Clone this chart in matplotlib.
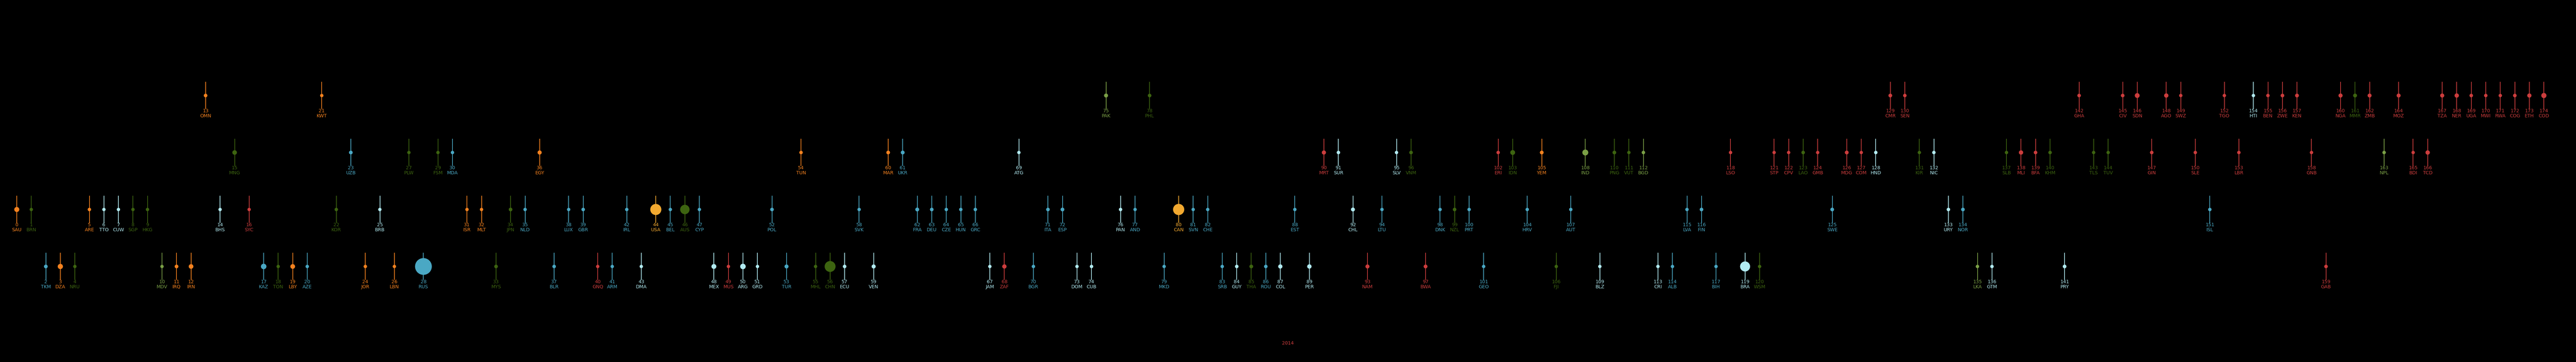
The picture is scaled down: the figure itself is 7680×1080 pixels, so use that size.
import matplotlib
matplotlib.use("Agg")
import matplotlib.pyplot as plt
import numpy as np

# ---- data ----
ranks = [0, 1, 2, 3, 4, 5, 6, 7, 8, 9, 10, 11, 12, 13, 14, 15, 16, 17, 18, 19, 20, 21, 22, 23,
         24, 25, 26, 27, 28, 29, 30, 31, 32, 33, 34, 35, 36, 37, 38, 39, 40, 41, 42, 43, 44, 45,
         46, 47, 48, 49, 50, 51, 52, 53, 54, 55, 56, 57, 58, 59, 60, 61, 62, 63, 64, 65, 66, 67,
         68, 69, 70, 71, 72, 73, 74, 75, 76, 77, 78, 79, 80, 81, 82, 83, 84, 85, 86, 87, 88, 89,
         90, 91, 92, 93, 94, 95, 96, 97, 98, 99, 100, 101, 102, 103, 104, 105, 106, 107, 108,
         109, 110, 111, 112, 113, 114, 115, 116, 117, 118, 119, 120, 121, 122, 123, 124, 125,
         126, 127, 128, 129, 130, 131, 132, 133, 134, 135, 136, 137, 138, 139, 140, 141, 142,
         143, 144, 145, 146, 147, 148, 149, 150, 151, 152, 153, 154, 155, 156, 157, 158, 159,
         160, 161, 162, 163, 164, 165, 166, 167, 168, 169, 170, 171, 172, 173, 174]
codes = ["SAU", "BRN", "TKM", "DZA", "NRU", "ARE", "TTO", "CUW", "SGP", "HKG", "MDV", "IRQ", "IRN",
         "OMN", "BHS", "MNG", "SYC", "KAZ", "TON", "LBY", "AZE", "KWT", "KOR", "UZB",
         "JOR", "BRB", "LBN", "PLW", "RUS", "FSM", "MDA", "ISR", "MLT", "MYS", "JPN", "NLD",
         "EGY", "BLR", "LUX", "GBR", "GNQ", "ARM", "IRL", "DMA", "USA", "BEL",
         "AUS", "CYP", "MEX", "MUS", "ARG", "GRD", "POL", "TUR", "TUN", "MHL", "CHN", "ECU",
         "SVK", "VEN", "MAR", "UKR", "FRA", "DEU", "CZE", "HUN", "GRC", "JAM",
         "ZAF", "ATG", "BGR", "ITA", "ESP", "DOM", "CUB", "PAK", "PAN", "AND", "PHL", "MKD",
         "CAN", "SVN", "CHE", "SRB", "GUY", "THA", "ROU", "COL", "EST", "PER",
         "MRT", "SUR", "CHL", "NAM", "LTU", "SLV", "VNM", "BWA", "DNK", "NZL", "PRT", "GEO",
         "ERI", "IDN", "HRV", "YEM", "FJI", "AUT", "IND",
         "BLZ", "PNG", "VUT", "BGD", "CRI", "ALB", "LVA", "FIN", "BIH", "LSO", "BRA", "WSM",
         "STP", "CPV", "LAO", "GMB", "SWE",
         "MDG", "COM", "HND", "CMR", "SEN", "KIR", "NIC", "URY", "NOR", "LKA", "GTM",
         "SLB", "MLI", "BFA", "KHM", "PRY", "GHA",
         "TLS", "TUV", "CIV", "SDN", "GIN", "AGO", "SWZ", "SLE", "ISL", "TGO", "LBR",
         "HTI", "BEN", "ZWE", "KEN", "GNB", "GAB",
         "NGA", "MMR", "ZMB", "NPL", "MOZ", "BDI", "TCD", "TZA", "NER", "UGA", "MWI",
         "RWA", "COG", "ETH", "COD"]
lanes = [2, 2, 3, 3, 3, 2, 2, 2, 2, 2, 3, 3, 3, 0, 2, 1, 2, 3, 3, 3, 3, 0, 2, 1,
         3, 2, 3, 1, 3, 1, 1, 2, 2, 3, 2, 2, 1, 3, 2, 2, 3, 3, 2, 3, 2, 2,
         2, 2, 3, 3, 3, 3, 2, 3, 1, 3, 3, 3, 2, 3, 1, 1, 2, 2, 2, 2, 2, 3,
         3, 1, 3, 2, 2, 3, 3, 0, 2, 2, 0, 3, 2, 2, 2, 3, 3, 3, 3, 3, 2, 3,
         1, 1, 2, 3, 2, 1, 1, 3, 2, 2, 2, 3, 1, 1, 2, 1, 3, 2, 1,
         3, 1, 1, 1, 3, 3, 2, 2, 3, 1, 3, 3, 1, 1, 1, 1, 2,
         1, 1, 1, 0, 0, 1, 1, 2, 2, 3, 3, 1, 1, 1, 1, 3, 0,
         1, 1, 0, 0, 1, 0, 0, 1, 2, 0, 1, 0, 0, 0, 0, 1, 3,
         0, 0, 0, 1, 0, 1, 1, 0, 0, 0, 0, 0, 0, 0, 0]
regions = ["MENA", "EAP", "ECA", "MENA", "EAP", "MENA", "LAC", "LAC", "EAP", "EAP", "SA", "MENA", "MENA",
           "MENA", "LAC", "EAP", "SSA", "ECA", "EAP", "MENA", "ECA", "MENA", "EAP", "ECA",
           "MENA", "LAC", "MENA", "EAP", "ECA", "EAP", "ECA", "MENA", "MENA", "EAP", "EAP", "ECA",
           "MENA", "ECA", "ECA", "ECA", "SSA", "ECA", "ECA", "LAC", "NA", "ECA",
           "EAP", "ECA", "LAC", "SSA", "LAC", "LAC", "ECA", "ECA", "MENA", "EAP", "EAP", "LAC",
           "ECA", "LAC", "MENA", "ECA", "ECA", "ECA", "ECA", "ECA", "ECA", "LAC",
           "SSA", "LAC", "ECA", "ECA", "ECA", "LAC", "LAC", "SA", "LAC", "ECA", "EAP", "ECA",
           "NA", "ECA", "ECA", "ECA", "LAC", "EAP", "ECA", "LAC", "ECA", "LAC",
           "SSA", "LAC", "LAC", "SSA", "ECA", "LAC", "EAP", "SSA", "ECA", "EAP", "ECA", "ECA",
           "SSA", "EAP", "ECA", "MENA", "EAP", "ECA", "SA",
           "LAC", "EAP", "EAP", "SA", "LAC", "ECA", "ECA", "ECA", "ECA", "SSA", "LAC", "EAP",
           "SSA", "SSA", "EAP", "SSA", "ECA",
           "SSA", "SSA", "LAC", "SSA", "SSA", "EAP", "LAC", "LAC", "ECA", "SA", "LAC",
           "EAP", "SSA", "SSA", "EAP", "LAC", "SSA",
           "EAP", "EAP", "SSA", "SSA", "SSA", "SSA", "SSA", "SSA", "ECA", "SSA", "SSA",
           "LAC", "SSA", "SSA", "SSA", "SSA", "SSA",
           "SSA", "EAP", "SSA", "SA", "SSA", "SSA", "SSA", "SSA", "SSA", "SSA", "SSA",
           "SSA", "SSA", "SSA", "SSA"]
# land area, thousand km2
areas = [2150, 5.8, 488, 2382, 0.02, 84, 5.1, 0.44, 0.7, 1.1, 0.3, 435, 1648,
         310, 14, 1564, 0.46, 2725, 0.75, 1760, 87, 17.8, 100, 447,
         89, 0.43, 10, 0.46, 17098, 0.7, 34, 22, 0.3, 331, 378, 42,
         1001, 208, 2.6, 243, 28, 30, 70, 0.75, 9834, 31,
         7692, 9.3, 1964, 2, 2780, 0.34, 313, 784, 164, 0.18, 9597, 256,
         49, 916, 447, 604, 644, 357, 79, 93, 132, 11,
         1221, 0.44, 111, 301, 506, 49, 110, 796, 75, 0.47, 300, 26,
         9985, 20, 41, 88, 215, 513, 238, 1142, 45, 1285,
         1031, 164, 756, 825, 65, 21, 331, 582, 43, 268, 92, 70,
         118, 1905, 57, 528, 18, 84, 3287,
         23, 463, 12, 148, 51, 29, 65, 338, 51, 30, 8516, 2.8,
         1, 4, 237, 11, 450,
         587, 2, 112, 475, 197, 0.8, 130, 176, 385, 66, 109,
         29, 1240, 274, 181, 407, 239,
         15, 0.03, 322, 1886, 246, 1247, 17, 72, 103, 57, 111,
         28, 115, 391, 580, 36, 268,
         924, 677, 753, 147, 799, 28, 1284, 947, 1267, 241, 118,
         26, 342, 1104, 2345]
year_label = "2014"

region_colors = {
    "MENA": "#f5821f",
    "LAC": "#b2ebf2",
    "ECA": "#4aa8c4",
    "EAP": "#3d6410",
    "SSA": "#cc3d3d",
    "NA": "#f2a930",
    "SA": "#7ba046",
}

W, H, DPI = 7680, 1080, 100
fig = plt.figure(figsize=(W / DPI, H / DPI), dpi=DPI, facecolor="black")
ax = fig.add_axes([0, 0, 1, 1], facecolor="black")
ax.set_axis_off()

step = 43.3        # px per rank
x0 = 50.0          # px of rank 0
lane_px = 170.0
lane0 = 285.0
ax.set_xlim(-x0 / step, (W - x0) / step)
ax.set_ylim((H - lane0) / lane_px, -lane0 / lane_px)

FONT = ["Liberation Sans Narrow", "DejaVu Sans"]
px2pt = 72.0 / DPI
fs = 14 * px2pt

r = np.array(ranks, dtype=float)
ln = np.array(lanes, dtype=float)
cols = [region_colors[g] for g in regions]
diam_px = 10 + 2.34e-3 * np.array(areas, dtype=float)
sizes = (diam_px * px2pt) ** 2

ax.vlines(r, ln - 41.0 / lane_px, ln + 40.0 / lane_px, colors=cols, linewidth=2.0 * px2pt, zorder=1)
ax.scatter(r, ln, s=sizes, c=cols, linewidths=0, zorder=2)

for xi, yi, rk, cd, c in zip(r, ln, ranks, codes, cols):
    ax.annotate(str(rk), (xi, yi), xytext=(0, -45.7 * px2pt), textcoords="offset points",
                ha="center", va="center", color=c, fontsize=fs, family=FONT, zorder=3)
    ax.annotate(cd, (xi, yi), xytext=(0, -60.7 * px2pt), textcoords="offset points",
                ha="center", va="center", color=c, fontsize=fs, family=FONT, zorder=3)

fig.text(0.5, 1 - 1024 / H, year_label, ha="center", va="center", color="#cc3d3d",
         fontsize=fs, family=FONT)

fig.savefig("out.png", dpi=DPI, facecolor="black")
